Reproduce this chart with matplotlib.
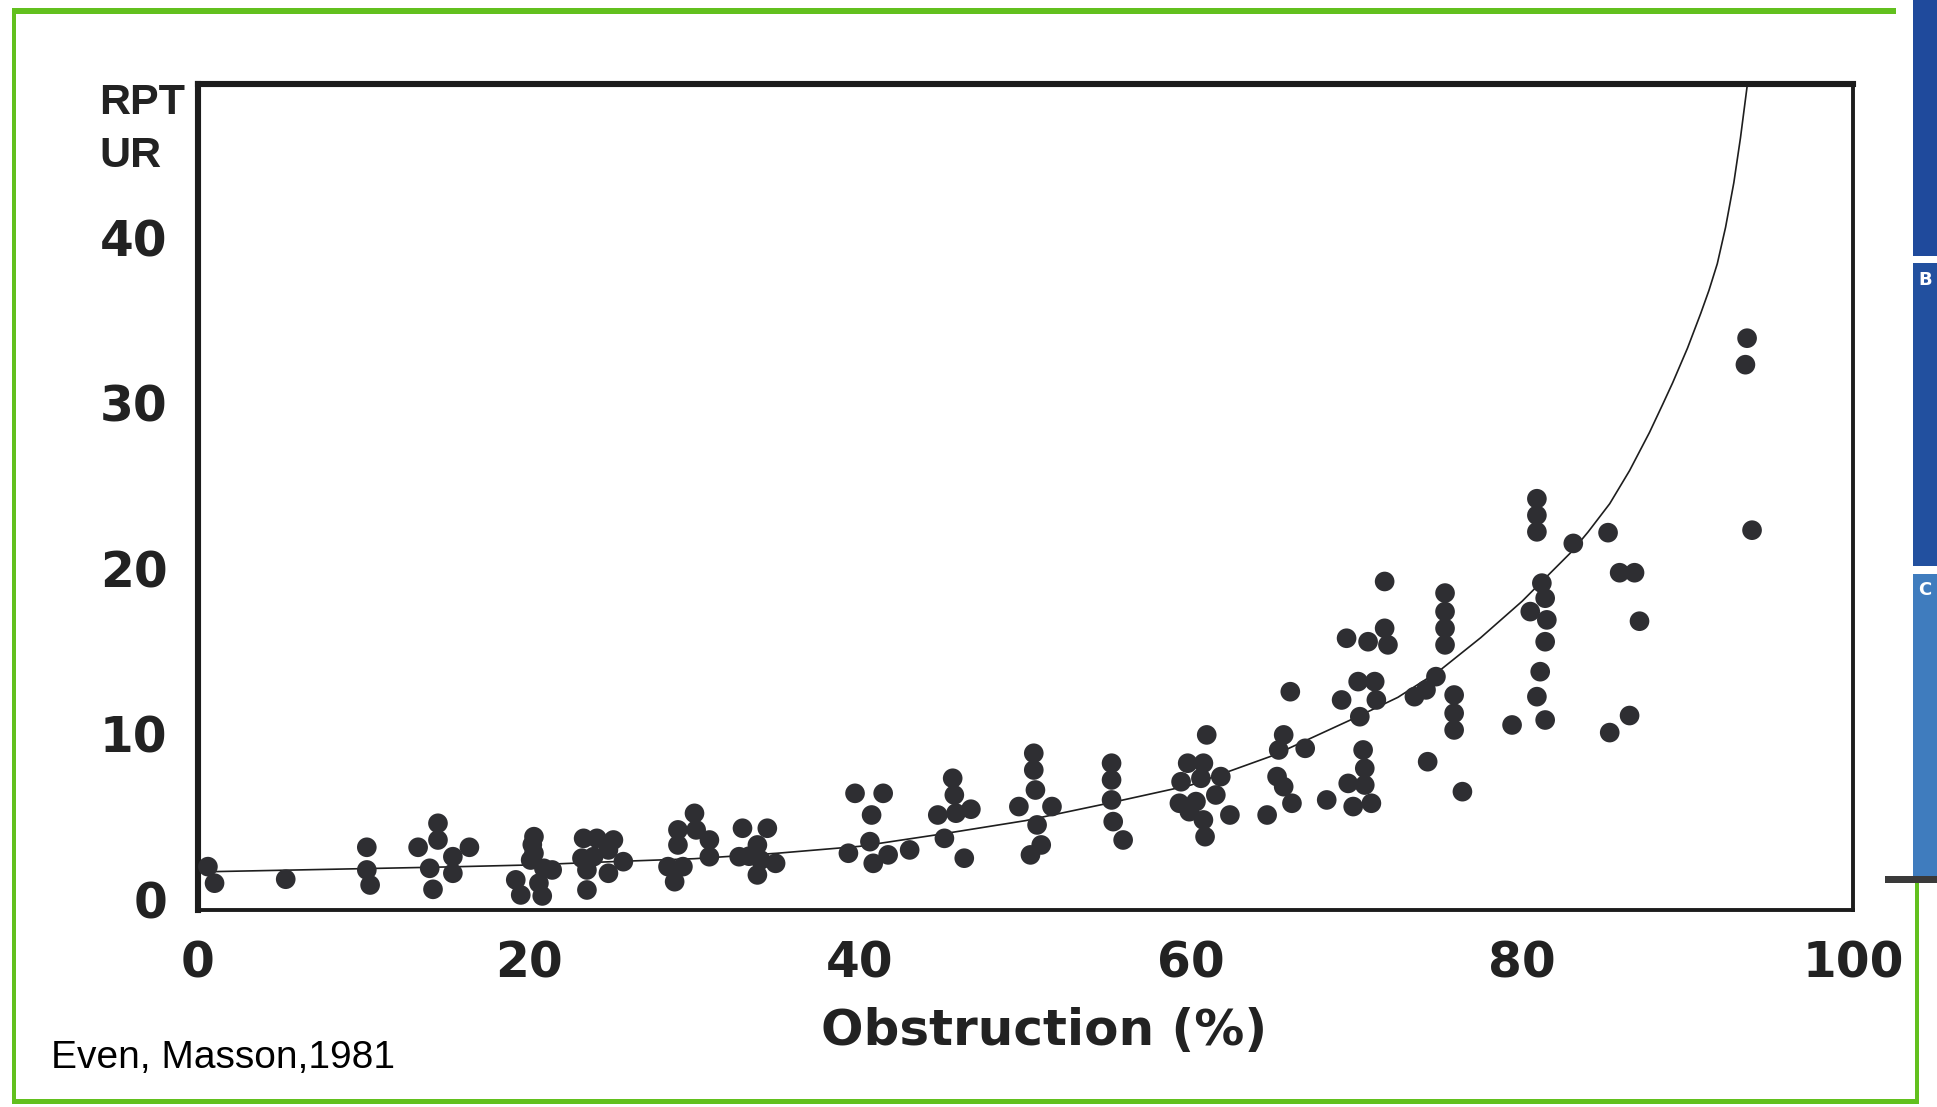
import matplotlib.pyplot as plt
from matplotlib.patches import Rectangle

# points (obstruction %, RPT/UR)
obstruction = [
    0.6, 1.0, 5.3,
    10.2, 10.2, 10.4,
    13.3, 14.5, 14.5, 14.0, 14.2, 15.4, 15.4, 16.4,
    20.3, 20.2, 20.3, 20.1, 20.9, 19.2, 19.5, 20.6, 20.8, 21.4,
    23.3, 24.1, 25.1, 23.2, 23.9, 24.8, 23.5, 24.8, 25.7, 23.5,
    30.0, 29.0, 30.1, 29.0, 30.9, 30.9, 28.4, 29.3, 28.8,
    32.9, 34.4, 33.8, 32.7, 33.3, 34.0, 34.9, 33.8,
    39.7, 41.4, 40.7, 40.6, 39.3, 40.8, 41.7, 43.0,
    45.6, 45.7, 44.7, 45.8, 46.7, 45.1, 46.3,
    50.5, 50.5, 50.6, 49.6, 51.6, 50.7, 50.95, 50.3,
    55.2, 55.2, 55.2, 55.3, 55.9,
    60.95, 59.8, 60.75, 59.4, 60.6, 61.8, 59.3, 60.3, 61.5, 59.9, 60.75, 60.85, 62.35,
    64.6, 65.6, 65.3, 66.9, 65.2, 65.6, 66.1, 66.0,
    68.2, 70.4, 70.5, 69.5, 70.5, 69.8, 70.9,
    71.7, 69.4, 70.7, 71.7, 71.9, 70.1, 71.1, 69.1, 71.2, 70.2,
    75.35, 75.35, 75.35, 75.35, 74.8, 74.2, 73.5, 75.9, 75.9, 75.9, 74.3, 76.4,
    80.9, 80.9, 80.9, 81.2, 81.4, 80.5, 81.5, 81.4, 81.1, 80.9, 81.4, 79.4,
    83.1, 85.2, 85.9, 86.8, 87.1, 86.5, 85.3,
    93.6, 93.5, 93.9,
]
rpt_ur = [
    1.97, 0.97, 1.21,
    3.14, 1.77, 0.86,
    3.14, 4.59, 3.58, 1.87, 0.60, 2.57, 1.57, 3.14,
    3.78, 3.3, 2.78, 2.37, 1.87, 1.17, 0.26, 0.97, 0.2, 1.77,
    3.68, 3.68, 3.58, 2.48, 2.57, 2.98, 1.77, 1.57, 2.27, 0.56,
    5.19, 4.19, 4.19, 3.28, 3.58, 2.57, 1.97, 1.97, 1.06,
    4.29, 4.29, 3.28, 2.57, 2.6, 2.37, 2.17, 1.47,
    6.4, 6.4, 5.09, 3.48, 2.78, 2.17, 2.68, 2.98,
    7.31, 6.3, 5.09, 5.2, 5.44, 3.68, 2.48,
    8.82, 7.81, 6.6, 5.6, 5.6, 4.49, 3.28, 2.68,
    8.22, 7.21, 6.0, 4.69, 3.58,
    9.93, 8.22, 8.22, 7.1, 7.31, 7.41, 5.8, 5.9, 6.3, 5.29, 4.79, 3.78, 5.09,
    5.09, 9.93, 9.02, 9.12, 7.41, 6.8, 5.8, 12.54,
    6.0, 9.02, 7.91, 7.0, 6.9, 5.6, 5.8,
    19.2, 15.77, 15.56, 16.37, 15.37, 13.15, 13.15, 12.04, 12.04, 11.03,
    18.5, 17.38, 16.37, 15.37, 13.45, 12.65, 12.24, 12.34, 11.24, 10.23, 8.31, 6.5,
    24.2, 23.2, 22.2, 19.1, 18.19, 17.38, 16.88, 15.56, 13.75, 12.24, 10.83, 10.53,
    21.5, 22.15, 19.73, 19.73, 16.8, 11.1, 10.07,
    33.9, 32.3, 22.3,
]

# fitted curve, traced point by point
fit_x = [0, 5, 10, 15, 20, 25, 30, 35, 40, 45, 50, 55, 60, 65, 70, 72.5,
         75, 77.5, 80, 82, 83, 84, 85.3, 86.5, 87.7, 88.5, 89.1, 90, 90.8,
         91.3, 91.8, 92.3, 92.8, 93.2, 93.6]
fit_y = [1.65, 1.75, 1.85, 1.95, 2.07, 2.27, 2.45, 2.78, 3.2, 3.95, 4.75,
         5.8, 6.9, 8.7, 11.0, 12.2, 13.8, 15.8, 18.0, 20.0, 21.0, 22.2,
         23.9, 25.9, 28.2, 29.9, 31.2, 33.3, 35.4, 36.8, 38.4, 40.6, 43.3,
         46.0, 49.1]

x_ticks = [0, 20, 40, 60, 80, 100]
y_ticks = [0, 10, 20, 30, 40]

W, H = 1937, 1107
fig = plt.figure(figsize=(W / 100, H / 100), dpi=100)
fig.patch.set_facecolor("white")


def box(x, y, w, h, color):
    # rectangle in pixel coords measured from the top-left corner
    fig.add_artist(Rectangle((x / W, 1 - (y + h) / H), w / W, h / H,
                             transform=fig.transFigure, color=color, lw=0))


# green slide frame and the blue strip at the right edge
box(12, 8, 1884, 6, "#62c01e")
box(12, 8, 4, 1096, "#62c01e")
box(12, 1099, 1906, 5, "#62c01e")
box(1915, 882, 4, 222, "#62c01e")
box(1913, 0, 24, 256, "#1f4a9c")
box(1913, 263, 24, 303, "#22509f")
box(1913, 574, 24, 302, "#3f7cbe")
box(1885, 876, 52, 7, "#3a3a3a")
fig.text(1925 / W, 1 - 280 / H, "B", color="white", fontsize=13,
         fontweight="bold", ha="center", va="center")
fig.text(1925 / W, 1 - 590 / H, "C", color="white", fontsize=13,
         fontweight="bold", ha="center", va="center")

ax = fig.add_axes([198 / W, 1 - 910 / H, 1655 / W, 826 / H])
ax.plot(fit_x, fit_y, color="#1e1e1e", lw=1.2, zorder=2)
ax.scatter(obstruction, rpt_ur, s=200, color="#2e2e32", edgecolors="none",
           zorder=3, clip_on=False)
ax.set_xlim(0, 100)
ax.set_ylim(-0.65, 49.26)

for side in ["top", "left"]:
    ax.spines[side].set_linewidth(4.4)
for side in ["bottom", "right"]:
    ax.spines[side].set_linewidth(2.8)
for sp in ax.spines.values():
    sp.set_color("#1c1c1c")

ax.set_xticks(x_ticks)
ax.set_xticklabels([str(v) for v in x_ticks])
ax.set_yticks(y_ticks)
ax.set_yticklabels([str(v) for v in y_ticks])
ax.tick_params(axis="x", length=0, pad=21)
ax.tick_params(axis="y", length=0, pad=22)
for lab in ax.get_xticklabels() + ax.get_yticklabels():
    lab.set_fontsize(35)
    lab.set_fontweight("bold")
    lab.set_family("DejaVu Sans")
    lab.set_color("#222222")

fig.text(99 / W, 1 - 114 / H, "RPT", fontsize=31, fontweight="bold",
         family="Liberation Sans", color="#222222", ha="left", va="baseline")
fig.text(99 / W, 1 - 167 / H, "UR", fontsize=31, fontweight="bold",
         family="Liberation Sans", color="#222222", ha="left", va="baseline")
fig.text(1044 / W, 1 - 1031 / H, "Obstruction (%)", fontsize=36,
         fontweight="bold", family="DejaVu Sans", color="#222222",
         ha="center", va="center")
fig.text(51 / W, 1 - 1068 / H, "Even, Masson,1981", fontsize=28,
         family="Liberation Sans", color="black", ha="left", va="baseline")

fig.savefig("out.png", dpi=100)
